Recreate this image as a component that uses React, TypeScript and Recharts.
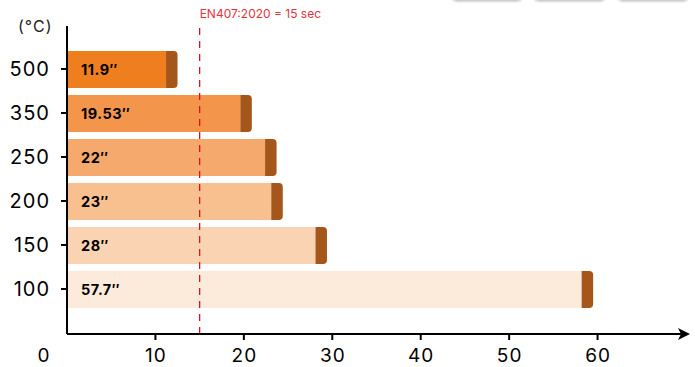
import React from 'react';
import { BarChart, Bar, XAxis, YAxis, ReferenceLine, Cell, LabelList } from 'recharts';

const temperatures = ['500', '350', '250', '200', '150', '100'];
// bar lengths (seconds) as drawn in the picture
const barLengths = [11.2, 19.6, 22.4, 23.1, 28.1, 58.2];
const timeLabels = ['11.9″', '19.53″', '22″', '23″', '28″', '57.7″'];
const caps = [1.3, 1.3, 1.3, 1.3, 1.3, 1.3];
const barColors = ['#EF7F1E', '#F3964B', '#F5A96C', '#F8BF8F', '#FAD4B2', '#FCEADA'];
const capColor = '#A5561A';
const xTicks = [0, 10, 20, 30, 40, 50, 60];
const standardSeconds = 15;
const standardLabel = 'EN407:2020 = 15 sec';
const unitLabel = '(°C)';

const data = temperatures.map((t, i) => ({ temp: t, time: barLengths[i], cap: caps[i], label: timeLabels[i] }));

const FONT = 'Inter, "Noto Sans", sans-serif';

const XTick = (props: any) => {
  const { x, y, payload } = props;
  const v = payload.value;
  if (v === 0) {
    return (
      <text x={x - 23} y={y + 7} dy="0.71em" textAnchor="middle" fill="#000" fontSize={19} letterSpacing={1} fontFamily={FONT}>
        {v}
      </text>
    );
  }
  return (
    <g>
      <line x1={x} x2={x} y1={y - 8} y2={y - 2} stroke="#000" strokeWidth={2} />
      <text x={x + 0.5} y={y + 7} dy="0.71em" textAnchor="middle" fill="#000" fontSize={19} letterSpacing={1} fontFamily={FONT}>
        {v}
      </text>
    </g>
  );
};

const YTick = (props: any) => {
  const { x, y, payload } = props;
  return (
    <text x={x + 1} y={y} dy="0.355em" textAnchor="end" fill="#000" fontSize={20} letterSpacing={1} fontFamily={FONT}>
      {payload.value}
    </text>
  );
};

const RefLabel = (props: any) => {
  const vb = props.viewBox || {};
  return (
    <text x={vb.x} y={vb.y - 8.5} fill="#E53440" fontSize={12} fontFamily={FONT}>
      {standardLabel}
    </text>
  );
};

const BarText = (props: any) => {
  const { x, y, height, value } = props;
  return (
    <text x={x + 14} y={y + height / 2} dominantBaseline="central" fill="#000" fontSize={14.5} letterSpacing={0.5} fontWeight={700} fontFamily={FONT}>
      {value}
    </text>
  );
};

const buttons = [
  { left: 451, width: 72 },
  { left: 533, width: 73 },
  { left: 617, width: 72 },
];

export default function App() {
  return (
    <div style={{ position: 'absolute', left: 0, top: 0, width: 695, height: 367, overflow: 'hidden', background: '#fff', fontFamily: FONT }}>
      {buttons.map((b, i) => (
        <div
          key={i}
          style={{
            position: 'absolute',
            left: b.left,
            top: -30,
            width: b.width,
            height: 31,
            border: '1px solid #cfcfcf',
            borderRadius: 6,
            boxShadow: '0 1px 2px rgba(0,0,0,0.18)',
            boxSizing: 'border-box',
          }}
        />
      ))}
      <div style={{ position: 'absolute', left: 18, top: 16, fontSize: 16, letterSpacing: 1, color: '#222', fontFamily: FONT }}>{unitLabel}</div>
      <BarChart
        width={695}
        height={367}
        layout="vertical"
        data={data}
        margin={{ top: 26, right: 9, bottom: 0, left: 0 }}
        barSize={37}
      >
        <defs>
          <marker id="arrowHead" markerWidth="14" markerHeight="12" refX="8" refY="6" orient="auto" markerUnits="userSpaceOnUse">
            <path d="M0,0 L12,6 L0,12 L3,6 Z" fill="#000" />
          </marker>
        </defs>
        <XAxis
          type="number"
          domain={[0, 70]}
          ticks={xTicks}
          interval={0}
          height={33}
          axisLine={{ stroke: '#000', strokeWidth: 2, markerEnd: 'url(#arrowHead)' }}
          tickLine={false}
          tick={(p: any) => <XTick {...p} />}
        />
        <YAxis
          type="category"
          dataKey="temp"
          width={67}
          padding={{ top: 21, bottom: 23 }}
          axisLine={{ stroke: '#000', strokeWidth: 2 }}
          tickLine={{ stroke: '#000', strokeWidth: 2 }}
          tickSize={6}
          tickMargin={12}
          tick={(p: any) => <YTick {...p} />}
          interval={0}
        />
        <Bar dataKey="time" stackId="a" isAnimationActive={false}>
          {data.map((d, i) => (
            <Cell key={i} fill={barColors[i]} />
          ))}
          <LabelList dataKey="label" content={(p: any) => <BarText {...p} />} />
        </Bar>
        <Bar dataKey="cap" stackId="a" fill={capColor} radius={[0, 4, 4, 0]} isAnimationActive={false} />
        <ReferenceLine x={standardSeconds} stroke="#D7141F" strokeDasharray="7 6" strokeWidth={1.3} label={<RefLabel />} />
      </BarChart>
    </div>
  );
}
